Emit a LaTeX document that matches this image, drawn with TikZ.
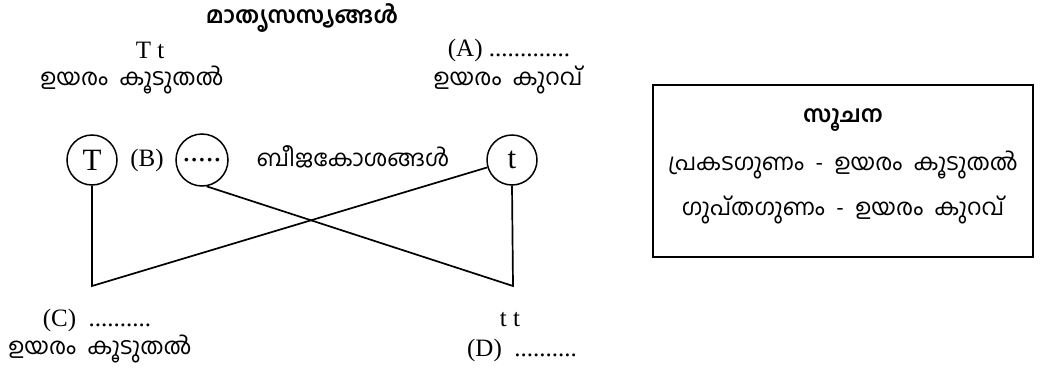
\documentclass[tikz,border=0pt]{standalone}
\usepackage{fontspec}
\setmainfont{Liberation Serif}
\newfontfamily\mlfont[Script=Malayalam]{Hind Kochi}

\begin{document}
\begin{tikzpicture}[x=1pt, y=-1pt,
  lat/.style={font=\fontsize{25}{29}\selectfont, inner sep=1pt},
  mal/.style={font=\mlfont\fontsize{23}{27}\selectfont, inner sep=1pt},
  malb/.style={font=\mlfont\bfseries\fontsize{23}{27}\selectfont, inner sep=1pt},
  gam/.style={circle, draw, line width=1.5pt, minimum size=50pt, inner sep=0pt, font=\fontsize{31}{34}\selectfont},
  link/.style={line width=1.7pt}]
\useasboundingbox (0,0) rectangle (1043,367);
%% Parents
\node[malb] (title) at (302,18) {മാതൃസസ്യങ്ങൾ};
\node[lat] (ptall) at (150,50) {T t};
\node[mal] (ptallh) at (132,80) {ഉയരം\ \ കൂടുതൽ};
\node[lat] (pshort) at (509,50) {(A)\ .............};
\node[mal] (pshorth) at (508,80) {ഉയരം\ \ കുറവ്};
%% Gametes
\node[gam] (gT) at (92,160) {T};
\node[lat] (lB) at (147,160) {(B)};
\node[gam, minimum size=52pt] (gB) at (202,160) {.....};
\node[mal] (lgam) at (353,157) {ബീജകോശങ്ങൾ};
\node[gam] (gt) at (512,160) {t};
%% Crossing lines
\coordinate (cC) at (92,286);
\coordinate (cD) at (513,286);
\draw[link] (gT.south) -- (cC) -- (gt);
\draw[link] (gB.-80) -- (cD) -- (gt.south);
%% Offspring
\node[lat] (oC) at (97,320) {(C)\ \ ..........};
\node[lat] (oD) at (510,320) {t t};
\node[mal] (oCh) at (100,349) {ഉയരം\ \ കൂടുതൽ};
\node[lat] (oDh) at (522,350) {(D)\ \ ..........};
%% Hint box
\node[draw, line width=1.8pt, minimum width=380pt, minimum height=172pt] (hint) at (843,171) {};
\node[malb] (hintt) at (843,120) {സൂചന};
\node[mal] (hdom) at (843,165) {പ്രകടഗുണം\ \ -\ \ ഉയരം\ \ കൂടുതൽ};
\node[mal] (hrec) at (843,210) {ഗുപ്തഗുണം\ \ -\ \ ഉയരം\ \ കുറവ്};
\end{tikzpicture}
\end{document}
